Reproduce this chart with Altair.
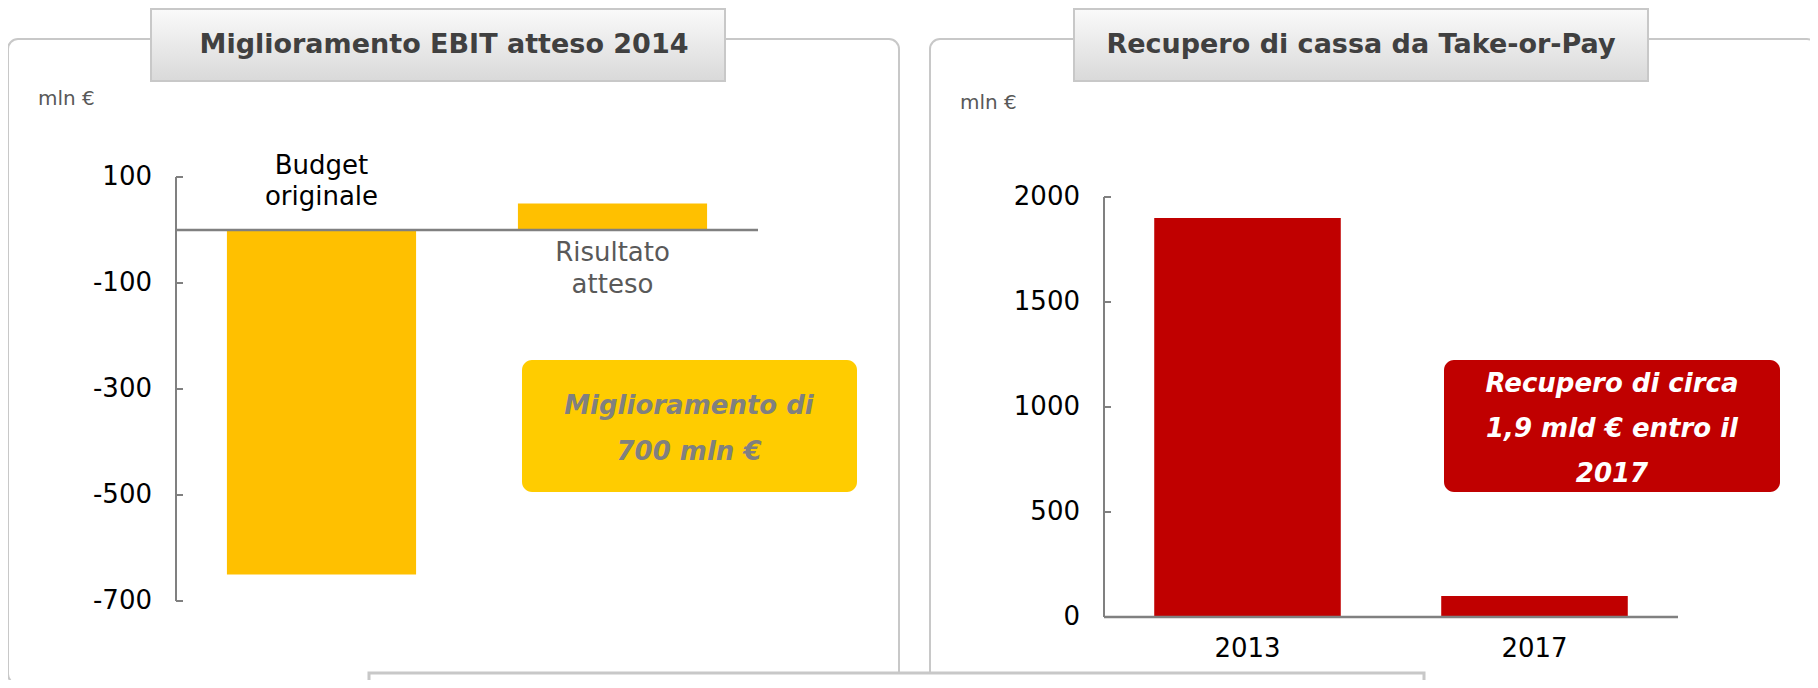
import altair as alt
import pandas as pd

# ---------------- data ----------------
ebit_categories = ["Budget originale", "Risultato atteso"]
ebit_values = [-650, 50]
ebit_ticks = [100, -100, -300, -500, -700]
ebit_tick_labels = ["100", "-100", "-300", "-500", "-700"]

top_categories = ["2013", "2017"]
top_values = [1900, 100]
top_ticks = [0, 500, 1000, 1500, 2000]
top_tick_labels = ["0", "500", "1000", "1500", "2000"]

left_title = "Miglioramento EBIT  atteso 2014"
right_title = "Recupero di cassa da Take-or-Pay"
unit_label = "mln €"
left_note = "Miglioramento di\n700 mln €"
right_note = "Recupero di circa\n1,9 mld € entro il\n2017"

FONT = "DejaVu Sans"
GRID_GREY = "#c8c8c8"
AXIS_GREY = "#808080"

ebit_df = pd.DataFrame({"cat": ebit_categories, "value": ebit_values})
ebit_ticks_df = pd.DataFrame({"tick": ebit_ticks, "label": ebit_tick_labels})
top_df = pd.DataFrame({"cat": top_categories, "value": top_values})
top_ticks_df = pd.DataFrame({"tick": top_ticks, "label": top_tick_labels})
one = pd.DataFrame({"k": [0]})

# ---------------- decorations (panel frames, title boxes) ----------------
title_grad = alt.LinearGradient(
    gradient="linear",
    stops=[alt.GradientStop(color="#fafafa", offset=0),
           alt.GradientStop(color="#d9d9d9", offset=1)],
    x1=0, x2=0, y1=0, y2=1,
)


def frame(x, x2, y, y2, radius=10):
    return alt.Chart(one).mark_rect(
        fill="white", stroke=GRID_GREY, strokeWidth=2, cornerRadius=radius
    ).encode(x=alt.value(x), x2=alt.value(x2), y=alt.value(y), y2=alt.value(y2))


def title_box(x, x2, y, y2, text, cx, cy):
    box = alt.Chart(one).mark_rect(
        fill=title_grad, stroke=GRID_GREY, strokeWidth=2
    ).encode(x=alt.value(x), x2=alt.value(x2), y=alt.value(y), y2=alt.value(y2))
    txt = alt.Chart(one).mark_text(
        font=FONT, fontSize=27, fontWeight="bold", color="#404040",
        align="center", baseline="middle", text=text
    ).encode(x=alt.value(cx), y=alt.value(cy))
    return box + txt


def unit(x, y):
    return alt.Chart(one).mark_text(
        font=FONT, fontSize=20, color="#595959", align="left",
        baseline="middle", text=unit_label
    ).encode(x=alt.value(x), y=alt.value(y))


def note(x, x2, y, y2, fill, text, color, size, lh, cx, first_y):
    box = alt.Chart(one).mark_rect(fill=fill, cornerRadius=10).encode(
        x=alt.value(x), x2=alt.value(x2), y=alt.value(y), y2=alt.value(y2))
    txt = alt.Chart(one).mark_text(
        font=FONT, fontSize=size, fontWeight="bold", fontStyle="italic",
        color=color, align="center", baseline="middle", lineBreak="\n",
        lineHeight=lh, text=text
    ).encode(x=alt.value(cx), y=alt.value(first_y))
    return box + txt


left_frame = frame(0, 891, 31, 676)
right_frame = frame(922, 1809, 31, 676)
left_title_box = title_box(143, 717, 1, 73, left_title, 436, 37)
right_title_box = title_box(1066, 1640, 1, 73, right_title, 1353, 37)
bottom_box = alt.Chart(one).mark_rect(
    fill="white", stroke=GRID_GREY, strokeWidth=3
).encode(x=alt.value(361), x2=alt.value(1416), y=alt.value(665), y2=alt.value(720))

# ---------------- left chart: EBIT ----------------
lx = alt.Scale(domain=ebit_categories, range=[168, 750], paddingInner=0.35, paddingOuter=0.175)
ly = alt.Scale(domain=[-700, 100], range=[593, 169], nice=False, zero=False)

l_bars = alt.Chart(ebit_df).mark_bar(color="#FFC000").encode(
    x=alt.X("cat:N", scale=lx, axis=None, sort=ebit_categories),
    y=alt.Y("value:Q", scale=ly, axis=None),
    y2=alt.Y2Datum(0),
)
l_axis = alt.Chart(one).mark_rule(color=AXIS_GREY, strokeWidth=2).encode(
    x=alt.value(168), y=alt.YDatum(100, scale=ly, axis=None), y2=alt.Y2Datum(-700))
l_ticks = alt.Chart(ebit_ticks_df).mark_rule(color=AXIS_GREY, strokeWidth=2).encode(
    y=alt.Y("tick:Q", scale=ly, axis=None), x=alt.value(168), x2=alt.value(175))
l_tick_labels = alt.Chart(ebit_ticks_df).mark_text(
    font=FONT, fontSize=26, color="black", align="right", baseline="middle"
).encode(y=alt.Y("tick:Q", scale=ly, axis=None), x=alt.value(144), text="label:N")
l_zero = alt.Chart(one).mark_rule(color=AXIS_GREY, strokeWidth=2.5).encode(
    y=alt.YDatum(0, scale=ly, axis=None), x=alt.value(168), x2=alt.value(750))

l_lab_df = pd.DataFrame({"cat": ebit_categories,
                         "text": ["Budget\noriginale", "Risultato\natteso"]})
l_lab_above = alt.Chart(l_lab_df.iloc[[0]]).mark_text(
    font=FONT, fontSize=26, color="black", align="center", baseline="middle",
    lineBreak="\n", lineHeight=31, dy=-64
).encode(x=alt.X("cat:N", scale=lx, axis=None, sort=ebit_categories),
         y=alt.YDatum(0, scale=ly, axis=None), text="text:N")
l_lab_below = alt.Chart(l_lab_df.iloc[[1]]).mark_text(
    font=FONT, fontSize=26, color="#595959", align="center", baseline="middle",
    lineBreak="\n", lineHeight=32, dy=23
).encode(x=alt.X("cat:N", scale=lx, axis=None, sort=ebit_categories),
         y=alt.YDatum(0, scale=ly, axis=None), text="text:N")

left_chart = alt.layer(l_bars, l_zero, l_axis, l_ticks, l_tick_labels,
                       l_lab_above, l_lab_below)

# ---------------- right chart: Take-or-Pay ----------------
rx = alt.Scale(domain=top_categories, range=[1096, 1670], paddingInner=0.35, paddingOuter=0.175)
ry = alt.Scale(domain=[0, 2000], range=[609, 189], nice=False, zero=False)

r_bars = alt.Chart(top_df).mark_bar(color="#C00000").encode(
    x=alt.X("cat:N", scale=rx, axis=None, sort=top_categories),
    y=alt.Y("value:Q", scale=ry, axis=None),
    y2=alt.Y2Datum(0),
)
r_axis = alt.Chart(one).mark_rule(color=AXIS_GREY, strokeWidth=2).encode(
    x=alt.value(1096), y=alt.YDatum(0, scale=ry, axis=None), y2=alt.Y2Datum(2000))
r_ticks = alt.Chart(top_ticks_df).mark_rule(color=AXIS_GREY, strokeWidth=2).encode(
    y=alt.Y("tick:Q", scale=ry, axis=None), x=alt.value(1096), x2=alt.value(1103))
r_tick_labels = alt.Chart(top_ticks_df).mark_text(
    font=FONT, fontSize=26, color="black", align="right", baseline="middle"
).encode(y=alt.Y("tick:Q", scale=ry, axis=None), x=alt.value(1072), text="label:N")
r_base = alt.Chart(one).mark_rule(color=AXIS_GREY, strokeWidth=2.5).encode(
    y=alt.YDatum(0, scale=ry, axis=None), x=alt.value(1096), x2=alt.value(1670))
r_cat_labels = alt.Chart(top_df).mark_text(
    font=FONT, fontSize=26, color="black", align="center", baseline="middle", dy=32
).encode(x=alt.X("cat:N", scale=rx, axis=None, sort=top_categories),
         y=alt.YDatum(0, scale=ry, axis=None), text="cat:N")

right_chart = alt.layer(r_bars, r_base, r_axis, r_ticks, r_tick_labels, r_cat_labels)

# ---------------- notes ----------------
left_note_box = note(514, 849, 352, 484, "#FFCC00", left_note, "#808080", 26, 46, 681, 398)
right_note_box = note(1436, 1772, 352, 484, "#C00000", right_note, "white", 26, 45, 1604, 376)

chart = alt.layer(
    left_frame, right_frame, left_title_box, right_title_box,
    unit(30, 91), unit(952, 95),
    left_chart, right_chart,
    left_note_box, right_note_box,
    bottom_box,
).resolve_scale(x="independent", y="independent").properties(
    width=1802, height=672,
    autosize=alt.AutoSizeParams(type="none"),
    padding=0,
).configure_view(stroke=None)

chart.save("out.html", embed_options={"renderer": "svg", "actions": False})
